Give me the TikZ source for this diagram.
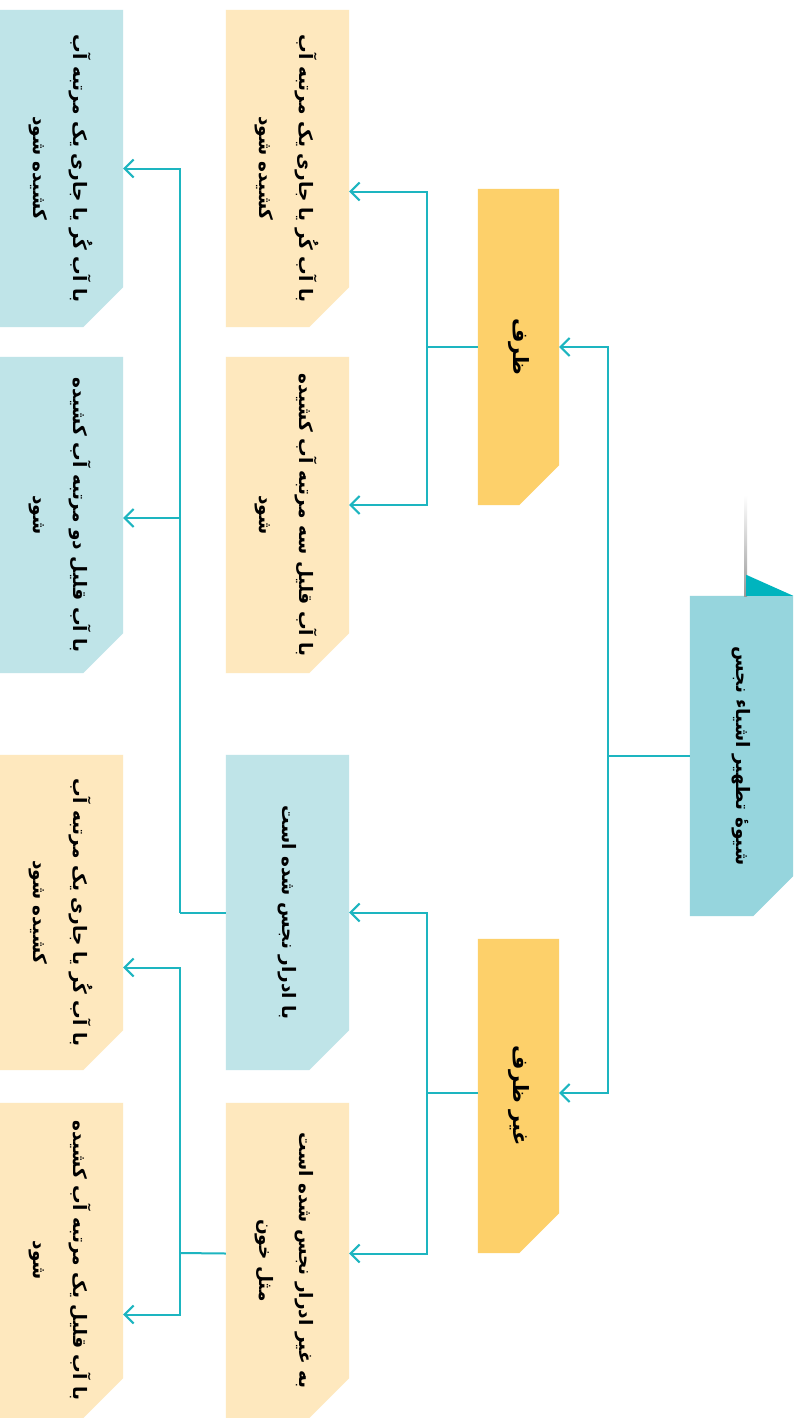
\documentclass[tikz,border=0pt]{standalone}
\usepackage{fontspec}
\usepackage{graphicx}
\usetikzlibrary{arrows.meta,backgrounds,calc}
\TeXXeTstate=1
\newfontfamily\fafont[Script=Arabic]{DejaVu Sans}
\newcommand\cutsz{40pt}
\definecolor{rootc}{HTML}{96D5DD}
\definecolor{tabc}{HTML}{00B4BE}
\definecolor{orng}{HTML}{FDD06A}
\definecolor{lorng}{HTML}{FEE8BE}
\definecolor{lblue}{HTML}{BFE4E8}
\definecolor{connc}{HTML}{1DB5C0}
\tikzset{
  boxtext/.style={inner sep=0pt, font=\fafont\bfseries\fontsize{18.5}{40}\selectfont},
  bigtext/.style={inner sep=0pt, font=\fafont\bfseries\fontsize{21}{40}\selectfont},
  conn/.style={draw=connc, line width=2pt},
  arr/.style={conn, -{Straight Barb[length=9pt,width=18pt,line width=2pt]}}
}
\newcommand\cutbox[8]{%
  \node[#8, minimum width=#4pt, minimum height=#5pt] (#1) at (#2,#3) {\rotatebox{-90}{#7}};
  \begin{pgfonlayer}{background}
  \fill[#6] (#1.north west) -- (#1.north east) -- ([yshift=\cutsz]#1.south east)
     -- ([xshift=-\cutsz]#1.south east) -- (#1.south west) -- cycle;
  \end{pgfonlayer}}
\begin{document}
\begin{tikzpicture}[x=1pt,y=-1pt]
\useasboundingbox (0,0) rectangle (796,1418);
\begin{pgfonlayer}{background}
\fill[white] (0,0) rectangle (796,1418);
\end{pgfonlayer}
% root
\cutbox{root}{741.5}{756}{103}{320}{rootc}{\beginR شیوهٔ تطهیر اشیاء نجس\endR}{boxtext}
\shade[top color=white, bottom color=gray!80] (744,495) rectangle (747,596);
\fill[tabc] ([xshift=-47pt]root.north east) -- (root.north east) -- ([xshift=-47pt,yshift=21pt]root.north east) -- cycle;
% level 1
\cutbox{zarf}{518.5}{347}{81}{316}{orng}{\beginR ظرف\endR}{bigtext}
\cutbox{ghair}{518.5}{1096}{81}{314}{orng}{\beginR غیر ظرف\endR}{bigtext}
% level 2
\cutbox{a2}{287.5}{168.5}{123}{317}{lorng}{\begin{tabular}{@{}c@{}}\beginR با آب کُر یا جاری یک مرتبه آب\endR\\\beginR کشیده شود\endR\end{tabular}}{boxtext}
\cutbox{b2}{287.5}{515}{123}{316}{lorng}{\begin{tabular}{@{}c@{}}\beginR با آب قلیل سه مرتبه آب کشیده\endR\\\beginR شود\endR\end{tabular}}{boxtext}
\cutbox{c2}{287.5}{912.5}{123}{315}{lblue}{\beginR با ادرار نجس شده است\endR}{boxtext}
\cutbox{d2}{287.5}{1260.5}{123}{315}{lorng}{\begin{tabular}{@{}c@{}}\beginR به غیر ادرار نجس شده است\endR\\\beginR مثل خون\endR\end{tabular}}{boxtext}
% level 3
\cutbox{a3}{61.5}{168.5}{123}{317}{lblue}{\begin{tabular}{@{}c@{}}\beginR با آب کُر یا جاری یک مرتبه آب\endR\\\beginR کشیده شود\endR\end{tabular}}{boxtext}
\cutbox{b3}{61.5}{515}{123}{316}{lblue}{\begin{tabular}{@{}c@{}}\beginR با آب قلیل دو مرتبه آب کشیده\endR\\\beginR شود\endR\end{tabular}}{boxtext}
\cutbox{c3}{61.5}{912.5}{123}{315}{lorng}{\begin{tabular}{@{}c@{}}\beginR با آب کُر یا جاری یک مرتبه آب\endR\\\beginR کشیده شود\endR\end{tabular}}{boxtext}
\cutbox{d3}{61.5}{1260.5}{123}{315}{lorng}{\begin{tabular}{@{}c@{}}\beginR با آب قلیل یک مرتبه آب کشیده\endR\\\beginR شود\endR\end{tabular}}{boxtext}
% junctions
\coordinate (j1) at (608,756);
\coordinate (j2) at (427,347);
\coordinate (j3) at (427,1093);
\coordinate (j4) at (180,912.5);
\coordinate (j5) at (180,1253);
% connectors
\draw[conn] (root.west) -- (j1);
\draw[arr] (j1) |- (zarf.east);
\draw[arr] (j1) |- ([yshift=3pt]ghair.east);
\draw[conn] (zarf.west) -- (j2);
\draw[arr] (j2) |- ([yshift=-23pt]a2.east);
\draw[arr] (j2) |- ([yshift=10pt]b2.east);
\draw[conn] ([yshift=3pt]ghair.west) -- (j3);
\draw[arr] (j3) |- (c2.east);
\draw[arr] (j3) |- ([yshift=7pt]d2.east);
\draw[conn] (c2.west) -- (j4);
\draw[arr] (j4) |- (a3.east);
\draw[arr] (j4) |- ([yshift=-3pt]b3.east);
\draw[conn] ([yshift=7pt]d2.west) -- (j5);
\draw[arr] (j5) |- ([yshift=-55pt]c3.east);
\draw[arr] (j5) |- ([yshift=-54pt]d3.east);
\end{tikzpicture}
\end{document}
